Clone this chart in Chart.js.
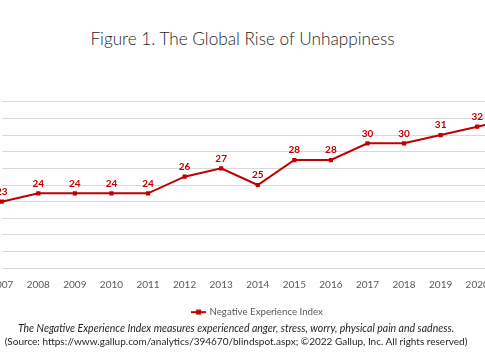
<!DOCTYPE html>
<html>
<head>
<meta charset="utf-8">
<script src="https://cdn.jsdelivr.net/npm/chart.js@4.4.1/dist/chart.umd.min.js"></script>
<style>
  html, body { margin: 0; padding: 0; background: #fff; overflow: hidden; }
  body { width: 485px; height: 360px; position: relative; }
  #grafico { position: absolute; left: -98px; top: 0; }
  .testo { position: absolute; left: 0; text-align: center; font-family: Lato, 'Open Sans', sans-serif; white-space: nowrap; line-height: normal; }
  #titolo { top: 28px; width: 485px; font-size: 17.2px; font-weight: 300; color: #262626; }
  #nota1 { top: 321.6px; width: 472px; font-size: 10.5px; font-style: italic; color: #1f1f1f; }
  #nota2 { top: 334.8px; width: 472px; font-size: 10px; color: #1f1f1f; }
</style>
</head>
<body>
<div id="titolo" class="testo">Figure 1. The Global Rise of Unhappiness</div>
<canvas id="grafico" width="663" height="360"></canvas>
<div id="nota1" class="testo">The Negative Experience Index measures experienced anger, stress, worry, physical pain and sadness.</div>
<div id="nota2" class="testo">(Source: https://www.gallup.com/analytics/394670/blindspot.aspx; ©2022 Gallup, Inc. All rights reserved)</div>
<script>
// dati (il 2021 sta fuori dal bordo destro)
var anni = ['2007', '2008', '2009', '2010', '2011', '2012', '2013', '2014', '2015', '2016', '2017', '2018', '2019', '2020', '2021'];
var indice = [23, 24, 24, 24, 24, 26, 27, 25, 28, 28, 30, 30, 31, 32, 33];
var nomeSerie = 'Negative Experience Index';
var asseMin = 15;
var asseMax = 35;
var passo = 2;

var rosso = '#c00000';
var grigio = '#595959';

// simbolo della legenda: linea con quadratino in mezzo
var simbolo = document.createElement('canvas');
simbolo.width = 15;
simbolo.height = 6;
var sctx = simbolo.getContext('2d');
sctx.fillStyle = rosso;
sctx.fillRect(0, 2, 15, 2);
sctx.fillRect(5, 0.5, 5, 5);

// etichette sopra i punti
var etichette = {
    id: 'etichette',
    afterDatasetsDraw: function (chart) {
        var ctx = chart.ctx;
        var meta = chart.getDatasetMeta(0);
        ctx.save();
        ctx.font = 'bold 10px Lato, "Open Sans", sans-serif';
        ctx.fillStyle = rosso;
        ctx.textAlign = 'center';
        ctx.textBaseline = 'middle';
        for (var i = 0; i < meta.data.length; i++) {
            var p = meta.data[i];
            ctx.fillText(indice[i], p.x, p.y - 10);
        }
        ctx.restore();
    }
};

var ctx = document.getElementById('grafico');
var chart = new Chart(ctx, {
    type: 'line',
    data: {
        labels: anni,
        datasets: [{
            label: nomeSerie,
            data: indice,
            borderColor: rosso,
            backgroundColor: rosso,
            borderWidth: 2,
            pointStyle: 'rect',
            pointRadius: 3,
            pointBackgroundColor: rosso,
            pointBorderColor: rosso,
            pointBorderWidth: 0,
            tension: 0
        }]
    },
    options: {
        responsive: false,
        animation: false,
        devicePixelRatio: 1,
        layout: {
            padding: { left: 99.7, right: 51.2, top: 101.7, bottom: 33 }
        },
        scales: {
            x: {
                offset: false,
                grid: { display: false, drawTicks: false },
                border: { display: false },
                ticks: {
                    color: grigio,
                    font: { family: 'Lato, "Open Sans", sans-serif', size: 10 },
                    padding: 10,
                    maxRotation: 0,
                    autoSkip: false
                }
            },
            y: {
                min: asseMin,
                max: asseMax,
                grid: { color: '#d9d9d9', lineWidth: 1, drawTicks: false },
                border: { display: false },
                ticks: { display: false, stepSize: passo },
                afterFit: function (scale) { scale.width = 0; }
            }
        },
        plugins: {
            legend: {
                position: 'bottom',
                labels: {
                    usePointStyle: true,
                    pointStyleWidth: 12,
                    padding: 7,
                    color: grigio,
                    font: { family: 'Lato, "Open Sans", sans-serif', size: 9.7 },
                    generateLabels: function (chart) {
                        return [{
                            text: nomeSerie,
                            pointStyle: simbolo,
                            fillStyle: rosso,
                            strokeStyle: rosso,
                            lineWidth: 0,
                            fontColor: grigio,
                            datasetIndex: 0
                        }];
                    }
                }
            },
            tooltip: { enabled: false }
        }
    },
    plugins: [etichette]
});
</script>
</body>
</html>
